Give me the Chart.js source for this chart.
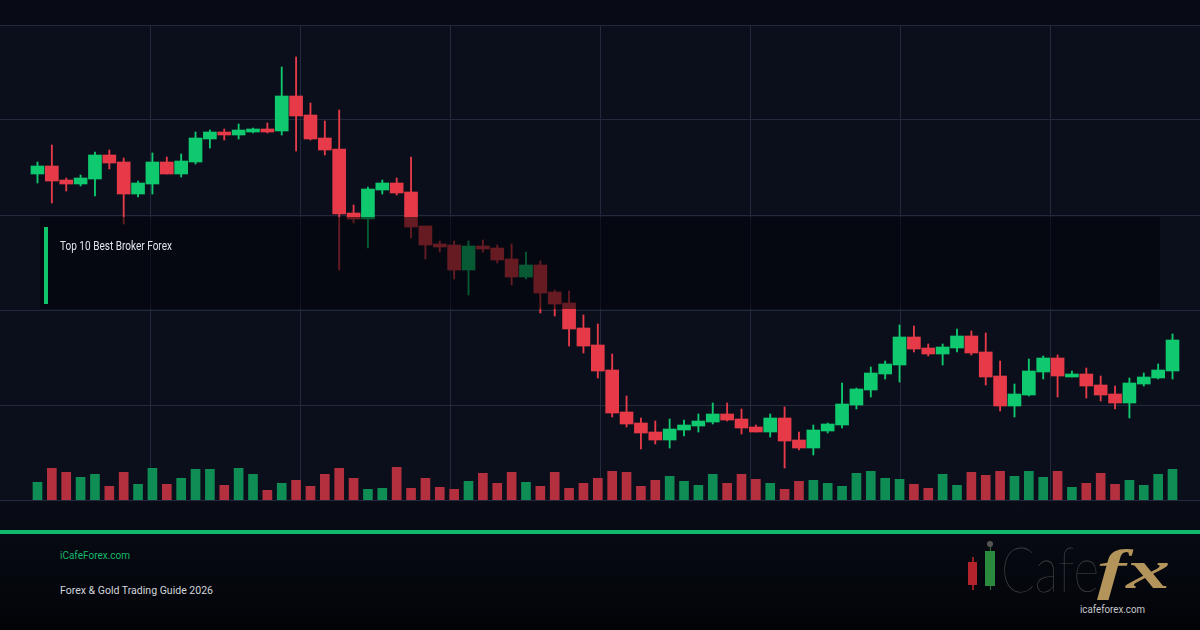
<!DOCTYPE html>
<html lang="en">
<head>
<meta charset="utf-8">
<title>iCafeForex – Forex &amp; Gold Trading Guide 2026</title>
<script src="https://cdn.jsdelivr.net/npm/chart.js@4.4.1/dist/chart.umd.min.js"></script>
<style>
  html, body { margin:0; padding:0; background:#03050a; }
  #page { position:relative; width:1200px; height:630px; overflow:hidden;
    background: linear-gradient(to bottom, #080b15 0px, #080b15 25px, #0b0f1c 25px, #0b0f1c 500px, #090c16 500px, #070a12 534px, #04060c 600px, #020307 630px);
    font-family: Roboto, "Noto Sans", sans-serif; }
  #chart { position:absolute; left:0; top:0; }
  .abs { position:absolute; display:inline-block; white-space:nowrap; line-height:1; transform-origin:0 0; }
  #box { position:absolute; left:40px; top:217px; width:1120px; height:92px; background:rgba(2,3,7,0.56); }
  #accent { position:absolute; left:4px; top:10px; width:4px; height:77px; background:#10c46c; }
  #boxTitle { left:20px; top:23px; font-size:12px; color:#e2e5ea; }
  #rule { position:absolute; left:0; top:530px; width:1200px; height:4px; background:#10b86b; }
  #site { left:60px; top:550.2px; font-size:11px; color:#16b86c; }
  #guide { left:60px; top:584.7px; font-size:11px; color:#d2d5da; }
  #cafe { left:1001px; top:537px; font-family:Lato, "Open Sans", sans-serif; font-weight:200; font-size:62px; color:#4b4b50; }
  #fx { left:1097px; top:543px; font-family:"Liberation Serif", "DejaVu Serif", serif; font-weight:bold; font-style:italic; font-size:54px; color:#b3955c; }
  #logoUrl { left:1080px; top:603.7px; font-size:11px; color:#c6c8cc; }
  .ico { position:absolute; }
</style>
</head>
<body>
<div id="page">
  <canvas id="chart" width="1200" height="510"></canvas>

  <div id="box">
    <div id="accent"></div>
    <span class="abs" id="boxTitle" data-w="112">Top 10 Best Broker Forex</span>
  </div>

  <div id="rule"></div>
  <span class="abs" id="site" data-w="70">iCafeForex.com</span>
  <span class="abs" id="guide" data-w="153">Forex &amp; Gold Trading Guide 2026</span>

  <!-- logo -->
  <div class="ico" style="left:972px;top:557px;width:1.5px;height:33px;background:#8e1d22"></div>
  <div class="ico" style="left:968px;top:562px;width:9px;height:23px;background:#b3232b"></div>
  <div class="ico" style="left:989.5px;top:545px;width:1.5px;height:45px;background:#2b6e35"></div>
  <div class="ico" style="left:987px;top:541px;width:6px;height:6px;border-radius:3px;background:#555"></div>
  <div class="ico" style="left:985px;top:551px;width:10px;height:35px;background:#2a8a3e"></div>
  <span class="abs" id="cafe" data-w="98">Cafe</span>
  <span class="abs" id="fx" data-w="73">fx</span>
  <span class="abs" id="logoUrl" data-w="65">icafeforex.com</span>
</div>

<script>
// ---------------- DATA ----------------
const opens = [1965.2,1966.8,1964.0,1963.2,1964.2,1969.0,1967.6,1961.2,1963.2,1967.6,
  1965.2,1967.6,1972.2,1973.6,1973.0,1973.6,1974.2,1973.8,1980.8,1977.0,
  1972.4,1970.2,1957.4,1956.2,1962.0,1963.4,1961.6,1954.8,1951.2,1951.0,
  1946.0,1950.8,1950.4,1948.2,1944.6,1947.0,1941.6,1939.4,1934.4,1931.0,
  1926.0,1917.6,1915.4,1913.6,1912.0,1914.0,1914.8,1915.6,1917.2,1916.2,
  1914.6,1913.6,1916.4,1912.0,1910.4,1913.8,1915.0,1919.0,1922.0,1925.2,
  1927.0,1932.6,1930.4,1929.2,1930.4,1932.8,1929.6,1924.8,1918.8,1921.0,
  1925.6,1928.4,1924.6,1925.2,1923.0,1921.2,1919.4,1923.2,1924.4,1925.8];
const highs = [1967.6,1971.0,1964.4,1965.0,1969.6,1970.0,1968.4,1963.8,1969.4,1968.6,
  1969.2,1973.6,1974.0,1974.2,1975.2,1974.4,1975.4,1986.6,1988.6,1979.4,
  1975.8,1978.0,1959.0,1962.6,1964.0,1964.4,1968.6,1954.8,1951.8,1951.8,
  1951.8,1952.0,1951.0,1951.2,1949.6,1947.8,1942.0,1941.8,1937.0,1935.2,
  1929.2,1920.8,1916.4,1915.8,1916.2,1916.0,1917.2,1919.4,1919.4,1918.2,
  1915.0,1917.2,1918.6,1913.6,1915.0,1915.4,1923.4,1922.4,1926.6,1927.8,
  1935.0,1934.8,1931.2,1931.2,1934.2,1933.8,1933.4,1927.8,1923.2,1928.2,
  1928.8,1929.0,1925.8,1926.4,1924.8,1922.8,1924.4,1925.4,1927.2,1933.2];
const lows = [1963.4,1959.4,1961.8,1962.8,1960.8,1966.2,1955.2,1960.6,1961.2,1965.2,
  1964.6,1967.2,1970.4,1972.0,1972.2,1973.4,1973.4,1973.0,1969.8,1972.0,
  1969.0,1946.0,1955.4,1950.4,1961.2,1961.0,1952.4,1948.2,1949.6,1944.2,
  1941.0,1949.6,1947.4,1943.0,1944.2,1937.4,1936.8,1930.8,1929.4,1924.4,
  1916.6,1914.6,1910.2,1911.2,1910.4,1912.8,1913.6,1915.2,1915.8,1913.2,
  1913.6,1912.6,1906.4,1910.0,1909.0,1913.4,1914.4,1918.2,1920.6,1924.2,
  1923.6,1929.6,1928.8,1927.0,1929.6,1929.0,1923.0,1917.8,1916.6,1920.8,
  1924.2,1920.6,1924.6,1920.4,1919.8,1918.2,1916.4,1922.8,1924.2,1924.2];
const closes = [1966.8,1963.8,1963.2,1964.4,1969.0,1967.4,1961.2,1963.4,1967.6,1965.2,
  1967.8,1972.4,1973.6,1973.0,1974.0,1974.2,1973.6,1980.8,1976.8,1972.2,
  1970.0,1957.2,1956.2,1962.2,1963.4,1961.4,1954.6,1951.0,1950.6,1946.0,
  1950.8,1950.2,1948.0,1944.6,1947.0,1941.4,1939.2,1934.2,1930.8,1925.8,
  1917.4,1915.2,1913.4,1912.0,1914.2,1915.0,1915.8,1917.2,1916.0,1914.4,
  1913.6,1916.4,1911.8,1910.4,1914.0,1915.2,1919.2,1922.2,1925.4,1927.2,
  1932.6,1930.2,1929.2,1930.6,1932.8,1929.4,1924.6,1918.8,1921.2,1925.8,
  1928.4,1924.8,1925.2,1922.8,1921.0,1919.4,1923.4,1924.6,1926.0,1932.0];
const volumes = [1770,3170,2770,2270,2570,1370,2770,1570,3170,1570,
  2170,3070,3070,1470,3170,2570,970,1670,1970,1370,
  2570,3170,2170,1070,1170,3270,1170,2170,1270,1070,
  1870,2670,1670,2770,1770,1370,2770,1170,1670,2170,
  2870,2770,1370,1970,2370,1870,1470,2570,1670,2570,
  2070,1670,1070,1870,1970,1670,1370,2670,2870,2170,
  2070,1570,1170,2570,1470,2770,2470,2870,2370,2870,
  2270,2870,1270,1670,2670,1570,1970,1470,2570,3070];
const sessions = opens.map((_, i) => i);   // one slot per candle

// price axis range and grid step, volume axis range
const priceMin = 1900, priceMax = 1995, priceStep = 19;
const volMax = 47500;

// ---------------- STYLE / LAYOUT ----------------
const UP = '#0fc96e', DOWN = '#e63a48';
const VOL_UP = '#0e8d55', VOL_DOWN = '#b4303e';
const GRID = '#242a3d';
const PAD_LEFT_SLOTS = 2.109, PAD_RIGHT_SLOTS = 1.413;

const isUp = closes.map((c, i) => c >= opens[i]);
const candleColors = isUp.map(u => u ? UP : DOWN);
const volColors = isUp.map(u => u ? VOL_UP : VOL_DOWN);

const bodyData = sessions.map(i => ({ x: i, y: [opens[i], closes[i]] }));
const wickData = sessions.map(i => ({ x: i, y: [lows[i], highs[i]] }));
const volData  = sessions.map(i => ({ x: i, y: volumes[i] }));

const n = sessions.length;

new Chart(document.getElementById('chart'), {
  type: 'bar',
  data: {
    datasets: [
      { label: 'Volume', data: volData, xAxisID: 'x', yAxisID: 'yv',
        backgroundColor: volColors, barThickness: 9, grouped: false, order: 3, borderWidth: 0 },
      { label: 'Wick', data: wickData, xAxisID: 'x', yAxisID: 'y',
        backgroundColor: candleColors, barThickness: 1.2, grouped: false, order: 2, borderWidth: 0 },
      { label: 'Body', data: bodyData, xAxisID: 'x', yAxisID: 'y',
        backgroundColor: candleColors, barThickness: 13, grouped: false, order: 1, borderWidth: 0 }
    ]
  },
  options: {
    responsive: false,
    animation: false,
    devicePixelRatio: 1,
    events: [],
    layout: { padding: { top: 25, bottom: 10, left: 0, right: 0 } },
    plugins: { legend: { display: false }, tooltip: { enabled: false } },
    scales: {
      x: { type: 'linear', display: false, offset: false, bounds: 'data',
           grid: { offset: false },
           min: -0.5 - PAD_LEFT_SLOTS, max: n - 0.5 + PAD_RIGHT_SLOTS },
      xg: { type: 'linear', position: 'bottom', min: 0, max: 8, offset: false, bounds: 'data',
            ticks: { display: false, stepSize: 1 },
            grid: { offset: false, drawTicks: false, lineWidth: 1,
                    color: ctx => (ctx.tick && (ctx.tick.value === 0 || ctx.tick.value === 8)) ? 'rgba(0,0,0,0)' : GRID },
            border: { display: false } },
      y: { type: 'linear', position: 'left', min: priceMin, max: priceMax, beginAtZero: false,
           ticks: { display: false, stepSize: priceStep },
           grid: { drawTicks: false, color: GRID, lineWidth: 1 },
           border: { display: false } },
      yv: { type: 'linear', display: false, min: 0, max: volMax }
    }
  }
});

// fit text widths to the reference layout (kept as real text)
function fitTexts() {
  document.querySelectorAll('[data-w]').forEach(el => {
    el.style.transform = 'none';
    const w = el.getBoundingClientRect().width;
    const target = parseFloat(el.dataset.w);
    if (w > 0) el.style.transform = 'scaleX(' + (target / w) + ')';
  });
}
fitTexts();
if (document.fonts && document.fonts.ready) document.fonts.ready.then(fitTexts);
</script>
</body>
</html>
